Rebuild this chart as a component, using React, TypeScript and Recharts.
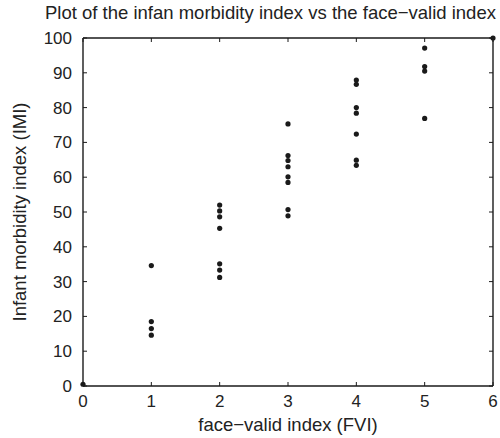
import React from "react";
import { ScatterChart, Scatter, XAxis, YAxis, ReferenceLine } from "recharts";

// Face-valid index (FVI) of each observation
const fviValues = [
  0,
  1, 1, 1, 1,
  2, 2, 2, 2, 2, 2, 2,
  3, 3, 3, 3, 3, 3, 3, 3,
  4, 4, 4, 4, 4, 4, 4,
  5, 5, 5, 5,
  6,
];

// Infant morbidity index (IMI) of each observation
const imiValues = [
  0.5,
  34.6, 18.5, 16.5, 14.6,
  52.0, 50.3, 48.6, 45.3, 35.1, 33.3, 31.2,
  75.3, 66.2, 64.8, 63.0, 60.1, 58.5, 50.7, 48.9,
  87.9, 86.7, 80.0, 78.4, 72.4, 64.9, 63.4,
  97.1, 91.8, 90.5, 76.9,
  100,
];

const xTicks = [0, 1, 2, 3, 4, 5, 6];
const yTicks = [0, 10, 20, 30, 40, 50, 60, 70, 80, 90, 100];

const titleText = "Plot of the infan morbidity index vs the face\u2212valid index";
const xLabelText = "face\u2212valid index (FVI)";
const yLabelText = "Infant morbidity index (IMI)";

const data = fviValues.map((x, i) => ({ fvi: x, imi: imiValues[i] }));

const FONT = "'Liberation Sans', Arial, Helvetica, sans-serif";
const INK = "#1a1a1a";
const TEXT = "#222";
const PLOT_TOP = 38;
const PLOT_BOTTOM = 386;
const PLOT_LEFT = 83;
const PLOT_RIGHT = 493;
const TICK = 4;

const XTick = (props: any) => {
  const { x, y, payload } = props;
  return (
    <g>
      <line x1={x} x2={x} y1={PLOT_BOTTOM} y2={PLOT_BOTTOM - TICK} stroke={INK} strokeWidth={1} />
      <line x1={x} x2={x} y1={PLOT_TOP} y2={PLOT_TOP + TICK} stroke={INK} strokeWidth={1} />
      <text x={x} y={y} dy="0.71em" textAnchor="middle" fontSize={17} fill={TEXT} fontFamily={FONT}>
        {payload.value}
      </text>
    </g>
  );
};

const YTick = (props: any) => {
  const { x, y, payload } = props;
  return (
    <g>
      <line x1={PLOT_LEFT} x2={PLOT_LEFT + TICK} y1={y} y2={y} stroke={INK} strokeWidth={1} />
      <line x1={PLOT_RIGHT} x2={PLOT_RIGHT - TICK} y1={y} y2={y} stroke={INK} strokeWidth={1} />
      <text x={x} y={y} dy="0.355em" textAnchor="end" fontSize={17} fill={TEXT} fontFamily={FONT}>
        {payload.value}
      </text>
    </g>
  );
};

const Dot = (props: any) => <circle cx={props.cx} cy={props.cy} r={2.6} fill={INK} />;

export default function App() {
  return (
    <div style={{ position: "absolute", left: 0, top: 0, width: 500, height: 438, background: "#fff", overflow: "hidden" }}>
      <ScatterChart width={500} height={438} margin={{ top: PLOT_TOP, right: 500 - PLOT_RIGHT, bottom: 0, left: 0 }}>
        <XAxis
          type="number"
          dataKey="fvi"
          domain={[0, 6]}
          ticks={xTicks}
          height={438 - PLOT_BOTTOM}
          tickSize={0}
          tickMargin={9}
          tickLine={false}
          tick={<XTick />}
          axisLine={{ stroke: INK, strokeWidth: 1.4 }}
          label={{ value: xLabelText, position: "insideBottom", offset: 7, fontSize: 18.5, fill: TEXT, fontFamily: FONT }}
        />
        <YAxis
          type="number"
          dataKey="imi"
          domain={[0, 100]}
          ticks={yTicks}
          width={PLOT_LEFT}
          tickSize={0}
          tickMargin={11}
          tickLine={false}
          tick={<YTick />}
          axisLine={{ stroke: INK, strokeWidth: 1.4 }}
          label={{
            value: yLabelText,
            angle: -90,
            position: "insideLeft",
            offset: 19,
            fontSize: 18.5,
            fill: TEXT,
            fontFamily: FONT,
            style: { textAnchor: "middle" },
          }}
        />
        <ReferenceLine y={100} stroke={INK} strokeWidth={1.4} />
        <ReferenceLine x={6} stroke={INK} strokeWidth={1.4} />
        <Scatter data={data} shape={<Dot />} isAnimationActive={false} />
      </ScatterChart>
      <div
        style={{
          position: "absolute",
          left: 45,
          top: 4,
          fontFamily: FONT,
          fontSize: 18.5,
          lineHeight: "18px",
          color: TEXT,
          whiteSpace: "nowrap",
        }}
      >
        {titleText}
      </div>
    </div>
  );
}
